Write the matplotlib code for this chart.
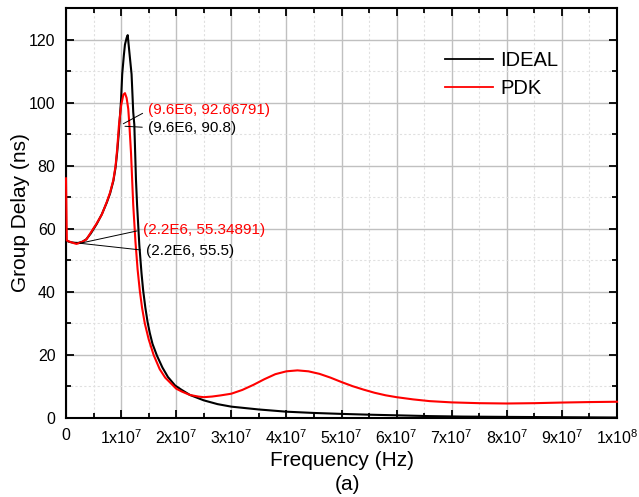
import matplotlib
matplotlib.use("Agg")
import matplotlib.pyplot as plt
from matplotlib.ticker import MultipleLocator, FixedLocator

plt.rcParams['font.family'] = ['Liberation Sans', 'DejaVu Sans']
plt.rcParams['mathtext.fontset'] = 'custom'
plt.rcParams['mathtext.rm'] = 'Liberation Sans'
plt.rcParams['mathtext.it'] = 'Liberation Sans'
plt.rcParams['mathtext.bf'] = 'Liberation Sans'

# ---- data (frequency in MHz, group delay in ns) ----
ideal_freq_mhz = [0, 0.5, 1.0, 1.6, 2.2, 3.0, 3.7, 4.5, 5.6, 6.5, 7.4, 8.0, 8.6, 9.0, 9.3,
                  9.6, 10.0, 10.2, 10.5, 10.7, 11.0, 11.2, 11.5, 11.9, 12.2, 12.4,
                  12.7, 12.9, 13.3, 13.7, 14.0, 14.4, 14.8, 15.2, 15.7, 16.5, 17.5, 18.5,
                  19.8, 21.0, 22.5, 25, 27.5, 30, 35, 40, 45, 50, 55, 60, 66, 72,
                  80, 90, 100]
ideal_delay_ns = [56.3, 55.9, 55.7, 55.55, 55.5, 55.9, 56.7, 58.5, 61.6, 64.6, 68.3,
                  71.2, 75.2, 79.5, 84.5, 90.8, 101, 109, 115, 118.4, 120.5, 121.4, 116, 109,
                  97, 93, 75.5, 67.6, 55, 46, 40.5, 35, 30.5, 27, 23.5, 19.8, 16, 13,
                  10.3, 8.9, 7.3, 5.6, 4.4, 3.6, 2.7, 2.0, 1.6, 1.3, 1.05, 0.85, 0.6,
                  0.45, 0.35, 0.25, 0.15]

pdk_freq_mhz = [0, 0.15, 0.8, 1.5, 1.9, 2.2, 3.0, 3.7, 4.5, 5.6, 6.5, 7.4, 8.0, 8.6,
                9.0, 9.3, 9.6, 10.0, 10.4, 10.7, 11.0, 11.3, 11.5, 11.8, 12.2, 12.6, 13.0,
                13.4, 13.8, 14.3, 15.0, 15.9, 17, 18, 19.6, 20, 21, 22.5, 24, 25,
                26.5, 28, 30, 32, 34, 36, 38, 40, 42, 44, 46, 48, 50, 52, 54, 56, 58, 60,
                63, 66, 70, 75, 80, 85, 90, 95, 100]
pdk_delay_ns = [76, 56.3, 55.8, 55.4, 55.2, 55.35, 55.9, 56.6, 58.8, 61.8, 64.5, 68.5,
                71.5, 75.5, 80, 85.5, 92.67, 99, 102.5, 103, 101.5, 98, 93, 84, 67.6, 56,
                47, 40.3, 35, 30, 25, 20, 15.5, 12.8, 10, 9.3, 8.4, 7.3, 6.8, 6.6,
                6.8, 7.15, 7.7, 8.9, 10.5, 12.3, 13.9, 14.8, 15.1, 14.8, 14.0, 12.8, 11.4,
                10.1, 9.0, 8.0, 7.2, 6.6, 5.9, 5.35, 4.95, 4.7, 4.6, 4.7, 4.9, 5.05, 5.15]

series_labels = ['IDEAL', 'PDK']
series_colors = ['black', 'red']

x_tick_labels = ['0', r'1x10$^{7}$', r'2x10$^{7}$', r'3x10$^{7}$', r'4x10$^{7}$',
                 r'5x10$^{7}$', r'6x10$^{7}$', r'7x10$^{7}$', r'8x10$^{7}$',
                 r'9x10$^{7}$', r'1x10$^{8}$']
y_ticks = [0, 20, 40, 60, 80, 100, 120]

# annotations: (text, color, point MHz, point ns, text MHz, text ns)
annot_texts = ['(9.6E6, 92.66791)', '(9.6E6, 90.8)', '(2.2E6, 55.34891)', '(2.2E6, 55.5)']
annot_colors = ['red', 'black', 'red', 'black']
annot_pt_mhz = [10.4, 10.7, 2.55, 2.55]
annot_pt_ns = [93.3, 92.5, 55.4, 55.4]
annot_txt_mhz = [14.85, 14.85, 13.9, 14.5]
annot_txt_ns = [97.5, 92.1, 59.7, 53.1]

fig = plt.figure(figsize=(6.39, 4.97), dpi=100)
ax = fig.add_axes([66/639, 1-418/497, 551/639, 410/497])

ax.plot([f*1e6 for f in ideal_freq_mhz], ideal_delay_ns, color=series_colors[0],
        lw=1.5, label=series_labels[0], zorder=3)
ax.plot([f*1e6 for f in pdk_freq_mhz], pdk_delay_ns, color=series_colors[1],
        lw=1.5, label=series_labels[1], zorder=4, clip_on=False)

ax.set_xlim(0, 1e8)
ax.set_ylim(0, 130)
ax.xaxis.set_major_locator(FixedLocator([i*1e7 for i in range(len(x_tick_labels))]))
ax.set_xticklabels(x_tick_labels)
ax.xaxis.set_minor_locator(MultipleLocator(5e6))
ax.yaxis.set_major_locator(FixedLocator(y_ticks))
ax.yaxis.set_minor_locator(MultipleLocator(10))

ax.grid(which='major', color='#c0c0c0', lw=1.0, ls='-', zorder=0)
ax.grid(which='minor', color='#e0e0e0', lw=0.8, ls=(0, (2, 2)), zorder=0)
ax.set_axisbelow(True)

ax.tick_params(which='both', direction='in', top=True, right=True, width=1.3,
               labelsize=11.5, pad=7.5)
ax.tick_params(which='major', length=6)
ax.tick_params(which='minor', length=3.5)
for s in ax.spines.values():
    s.set_linewidth(1.5)

ax.set_xlabel('Frequency (Hz)', fontsize=15, labelpad=3)
ax.set_ylabel('Group Delay (ns)', fontsize=15, labelpad=-1)
fig.text(348/639, 1-485/497, '(a)', fontsize=15, ha='center', va='center')

for t, c, px, py, tx, ty in zip(annot_texts, annot_colors, annot_pt_mhz, annot_pt_ns,
                                annot_txt_mhz, annot_txt_ns):
    ax.annotate(t, xy=(px*1e6, py), xytext=(tx*1e6, ty), color=c, fontsize=11,
                ha='left', va='center', zorder=6,
                arrowprops=dict(arrowstyle='-', color='black', lw=0.7,
                                relpos=(0, 0.5), shrinkA=2, shrinkB=0))

leg = ax.legend(loc='upper left', bbox_to_anchor=((445-66)/551, 1-(51-8)/410),
                frameon=False, fontsize=14.5, handlelength=2.4, handletextpad=0.35,
                borderpad=0, borderaxespad=0, labelspacing=0.45)
for l in leg.get_lines():
    l.set_linewidth(1.3)

fig.savefig('out.png', dpi=100)
